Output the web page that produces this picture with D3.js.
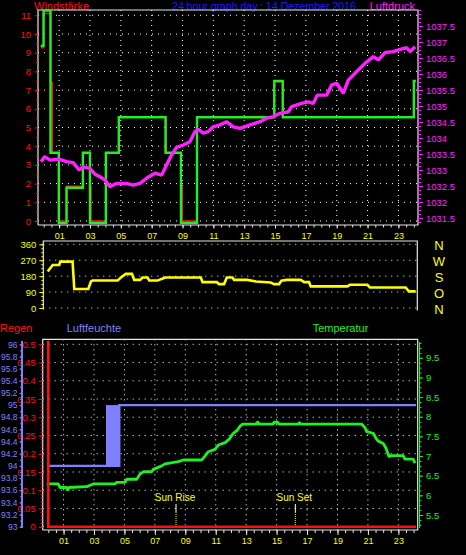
<!DOCTYPE html>
<html><head><meta charset="utf-8">
<script src="https://cdn.jsdelivr.net/npm/d3@7"></script>
<style>html,body{margin:0;padding:0;background:#000;}svg{display:block;}</style>
</head><body>
<svg id="c" width="466" height="555"></svg>
<script>
// ---------------- DATA ----------------
const hourDomain = [-0.37, 24.27];
const hourValues = [1,3,5,7,9,11,13,15,17,19,21,23];
const hourLabels = ["01","03","05","07","09","11","13","15","17","19","21","23"];

const titleText = "24 hour graph day : 14 Dezember 2016";

// wind (Windstärke) gust (green) and average (red), step series
const windGustHours  = [-0.19, -0.01, 0.44, 0.98, 1.48, 2.54, 3.0, 4.03, 4.87, 7.9, 8.9, 9.94, 14.95, 15.5, 24.0, 24.13];
const windGustValues = [9.37, 11.25, 3.65, -0.1, 1.78, 3.65, -0.1, 3.65, 5.55, 3.65, -0.1, 5.55, 7.49, 5.55, 7.49, 7.49];
const windAvgHours   = [-0.19, -0.01, 0.44, 0.55, 0.98, 1.48, 2.54, 3.0, 3.06, 4.03, 4.87, 7.95, 8.9, 8.98, 9.94, 14.95, 15.5, 24.0, 24.13];
const windAvgValues  = [9.27, 11.1, 7.4, 3.65, 0, 1.85, 3.65, 1.85, 0, 3.65, 5.55, 3.65, 1.85, 0, 5.55, 7.45, 5.55, 7.45, 7.45];
const windTicks = [0,1,2,3,4,5,6,7,8,9,10,11];

// pressure (Luftdruck)
const pressHours  = [-0.17,0.07,0.40,1.0,1.48,1.91,2.30,2.56,2.99,3.32,3.64,3.97,4.29,4.72,5.37,5.80,6.24,6.67,7.21,7.65,7.97,8.29,8.62,9.05,9.48,9.81,10.02,10.34,10.67,10.99,11.43,11.86,12.29,12.73,13.38,14.03,14.46,14.89,15.32,15.86,16.08,16.73,17.16,17.48,17.74,18.35,18.68,19.0,19.43,19.75,20.08,20.51,20.95,21.38,21.70,22.14,22.67,23.11,23.54,23.76,24.08];
const pressValues = [1033.26,1033.42,1033.31,1033.34,1033.26,1033.23,1033.0,1033.10,1033.05,1032.87,1032.79,1032.69,1032.48,1032.58,1032.58,1032.53,1032.58,1032.74,1032.90,1032.84,1033.16,1033.47,1033.71,1033.78,1033.88,1034.20,1034.27,1034.15,1034.20,1034.35,1034.41,1034.51,1034.35,1034.30,1034.41,1034.51,1034.62,1034.67,1034.77,1034.82,1034.98,1035.08,1035.13,1035.08,1035.34,1035.34,1035.66,1035.71,1035.40,1035.81,1035.97,1036.18,1036.38,1036.54,1036.44,1036.67,1036.70,1036.77,1036.82,1036.70,1036.85];
const pressTicks = [1031.5,1032,1032.5,1033,1033.5,1034,1034.5,1035,1035.5,1036,1036.5,1037,1037.5];

// wind direction
const dirHours  = [-0.08,0.25,0.68,0.75,1.56,1.67,2.59,2.77,2.88,4.53,4.74,5.07,5.47,5.62,6.01,6.17,6.50,6.61,7.16,7.38,7.66,10.01,10.12,11.06,11.21,11.54,11.72,12.09,12.20,13.08,13.63,14.61,14.83,15.16,15.32,15.67,16.59,16.81,17.14,17.25,19.66,19.83,20.98,21.15,23.50,23.72,24.16];
const dirValues = [206,243,243,262,262,107,107,150,155,155,172,193,193,159,159,172,172,155,155,163,172,172,146,146,135,135,172,172,159,159,150,144,135,135,154,159,159,146,146,122,122,131,131,116,116,94,94];
const dirTicks = [0,90,180,270,360];
const compassLabels = ["N","W","S","O","N"];
const compassValues = [360,270,180,90,0];

// rain (Regen)
const rainHours  = [0.0, 0.0, 24.16];
const rainValues = [0.51, 0, 0];
const rainTicks = [0,0.05,0.1,0.15,0.2,0.25,0.3,0.35,0.4,0.45,0.5];

// humidity (Luftfeuchte)
const humHours  = [-0.02, 4.66, 4.66, 24.16];
const humValues = [94, 94, 95, 95];
const humBandHours = [3.79, 4.66];
const humBandLow   = [94, 94];
const humBandHigh  = [95, 95];
const humTicks = [93,93.2,93.4,93.6,93.8,94,94.2,94.4,94.6,94.8,95,95.2,95.4,95.6,95.8,96];

// temperature (Temperatur)
const tempHours  = [-0.11,0.65,0.77,1.21,1.28,1.34,2.52,2.95,4.38,4.49,5.04,5.15,5.81,6.02,6.24,6.79,6.90,7.45,7.67,8.54,8.87,10.08,10.29,10.51,10.95,11.17,11.61,11.89,12.11,12.42,12.59,12.77,13.70,13.72,13.80,13.82,14.79,14.82,15.10,15.13,16.45,16.47,16.52,16.54,20.59,20.81,20.92,21.35,21.53,21.68,22.01,22.19,22.27,22.40,22.45,23.32,23.43,23.98,24.09];
const tempValues = [6.29,6.29,6.20,6.20,6.12,6.20,6.22,6.29,6.29,6.33,6.33,6.41,6.41,6.54,6.60,6.60,6.66,6.75,6.80,6.86,6.90,6.90,7.00,7.11,7.17,7.28,7.34,7.43,7.56,7.66,7.76,7.81,7.81,7.86,7.86,7.81,7.81,7.86,7.86,7.81,7.81,7.85,7.85,7.81,7.81,7.72,7.62,7.58,7.45,7.38,7.32,7.20,7.11,6.97,7.01,7.01,6.92,6.92,6.82];
const tempTicks = [5.5,6,6.5,7,7.5,8,8.5,9,9.5];

const sunLabels = ["Sun Rise","Sun Set"];
const sunHours  = [8.39, 16.23];

// ---------------- STYLE ----------------
const NARROW = "'Liberation Sans Narrow','Liberation Sans',Arial,sans-serif";
const SANS = "'Liberation Sans',Arial,sans-serif";
const C = {frame:"#e6e6e6", red:"#ff1010", green:"#22ee22", magenta:"#ff22ff", yellow:"#ffff00",
           blue:"#1a1aff", lav:"#8080ff", white:"#ffffff"};

const svg = d3.select("#c");
svg.append("rect").attr("width",466).attr("height",555).attr("fill","#000");

function styleAxis(g, color, size) {
  g.attr("font-family", NARROW).attr("font-size", size || 9);
  g.select("path.domain").remove();
  g.selectAll(".tick line").attr("stroke", color);
  g.selectAll(".tick text").attr("fill", color);
  return g;
}
function hGrid(ys, x0, x1) {
  svg.append("g").selectAll("line").data(ys).join("line")
    .attr("x1", x0).attr("x2", x1).attr("y1", d => d).attr("y2", d => d)
    .attr("stroke", C.white).attr("stroke-width", 1).attr("stroke-dasharray", "1,5");
}
function vGrid(xs, y0, y1) {
  svg.append("g").selectAll("line").data(xs).join("line")
    .attr("x1", d => d).attr("x2", d => d).attr("y1", y0).attr("y2", y1)
    .attr("stroke", C.white).attr("stroke-width", 1).attr("stroke-dasharray", "1,4");
}
const zip = (a, b) => a.map((v, i) => [v, b[i]]);
const halfHours = d3.range(0, 24.3, 0.5);
const numFmt = d => (Math.round(d*100)/100).toString();

// ---------------- TITLES ----------------
svg.append("text").attr("x",34).attr("y",9.5).attr("fill",C.red).attr("font-family",SANS).attr("font-size",11).text("Windstärke");
svg.append("text").attr("x",172).attr("y",9.5).attr("fill",C.blue).attr("font-family",SANS).attr("font-size",11).attr("textLength",184).text(titleText);
svg.append("text").attr("x",415).attr("y",9.5).attr("text-anchor","end").attr("fill",C.magenta).attr("font-family",SANS).attr("font-size",11).text("Luftdruck");

// ---------------- TOP PANEL ----------------
const T = {l:38, r:418, t:10, b:225};
const xTop = d3.scaleLinear().domain(hourDomain).range([T.l, T.r]);
const yWind = d3.scaleLinear().domain([0, 11]).range([221, 15.3]);
const yPress = d3.scaleLinear().domain([1031.5, 1037.5]).range([218, 26]);

hGrid(windTicks.map(yWind), T.l, T.r);
vGrid(hourValues.map(xTop), T.t, T.b);

svg.append("path").attr("fill","none").attr("stroke",C.frame).attr("stroke-width",1.2)
  .attr("d", `M${T.l},${T.b}V${T.t}H${T.r}V${T.b}H${T.l}`);

// left wind axis
styleAxis(svg.append("g").attr("transform",`translate(${T.l},0)`)
  .call(d3.axisLeft(yWind).tickValues(d3.range(0.5, 11, 1)).tickSize(2).tickFormat("")), C.red);
styleAxis(svg.append("g").attr("transform",`translate(${T.l},0)`)
  .call(d3.axisLeft(yWind).tickValues(windTicks).tickSize(3).tickPadding(4)), C.red, 9.5);

// right pressure axis
styleAxis(svg.append("g").attr("transform",`translate(${T.r},0)`)
  .call(d3.axisRight(yPress).tickValues(d3.range(1031.375, 1038.01, 0.125)).tickSize(3).tickFormat("")), C.magenta);
styleAxis(svg.append("g").attr("transform",`translate(${T.r},0)`)
  .call(d3.axisRight(yPress).tickValues(pressTicks).tickSize(5).tickPadding(3).tickFormat(numFmt)), C.magenta, 9.5);

// hour axis under top panel
styleAxis(svg.append("g").attr("transform",`translate(0,${T.b})`)
  .call(d3.axisBottom(xTop).tickValues(halfHours).tickSize(2.5).tickFormat("")), C.frame);
const topHourAxis = styleAxis(svg.append("g").attr("transform",`translate(0,${T.b})`)
  .call(d3.axisBottom(xTop).tickValues(hourValues).tickSize(3.5).tickPadding(4).tickFormat((d,i)=>hourLabels[i])), C.frame, 9);
topHourAxis.selectAll(".tick text").attr("fill", C.yellow);

// wind lines
const windLine = d3.line().x(d => xTop(d[0])).y(d => yWind(d[1])).curve(d3.curveStepAfter);
svg.append("path").datum(zip(windAvgHours, windAvgValues)).attr("d", windLine)
  .attr("fill","none").attr("stroke",C.red).attr("stroke-width",1.6);
svg.append("path").datum(zip(windGustHours, windGustValues)).attr("d", windLine)
  .attr("fill","none").attr("stroke",C.green).attr("stroke-width",2.4);

// pressure line
const pressLine = d3.line().x(d => xTop(d[0])).y(d => yPress(d[1]));
svg.append("path").datum(zip(pressHours, pressValues)).attr("d", pressLine)
  .attr("fill","none").attr("stroke",C.magenta).attr("stroke-width",3.4).attr("stroke-linejoin","bevel");

// ---------------- MIDDLE PANEL ----------------
const M = {l:43.3, r:417.3, t:241, b:309.5};
const xMid = d3.scaleLinear().domain(hourDomain).range([M.l, M.r]);
const yDir = d3.scaleLinear().domain([0, 360]).range([308, 244.3]);

hGrid(dirTicks.map(yDir), M.l, M.r);
svg.append("path").attr("fill","none").attr("stroke",C.frame).attr("stroke-width",1.2)
  .attr("d", `M${M.l},${M.b}V${M.t}H${M.r}V${M.b+1}`);

styleAxis(svg.append("g").attr("transform",`translate(${M.l},0)`)
  .call(d3.axisLeft(yDir).tickValues(d3.range(0, 361, 22.5)).tickSize(2).tickFormat("")), C.yellow);
styleAxis(svg.append("g").attr("transform",`translate(${M.l},0)`)
  .call(d3.axisLeft(yDir).tickValues(dirTicks).tickSize(4).tickPadding(3)), C.yellow, 9.5);

svg.append("g").selectAll("text").data(compassLabels).join("text")
  .attr("x", 439).attr("y", (d,i) => yDir(compassValues[i]) + 1.5)
  .attr("text-anchor","middle").attr("dominant-baseline","central")
  .attr("fill", C.yellow).attr("font-family", NARROW).attr("font-size", 13).text(d => d);

const dirLine = d3.line().x(d => xMid(d[0])).y(d => yDir(d[1]));
svg.append("path").datum(zip(dirHours, dirValues)).attr("d", dirLine)
  .attr("fill","none").attr("stroke",C.yellow).attr("stroke-width",2.6);

// ---------------- BOTTOM PANEL ----------------
svg.append("text").attr("x",0).attr("y",331.5).attr("fill",C.red).attr("font-family",SANS).attr("font-size",11).text("Regen");
svg.append("text").attr("x",66.7).attr("y",331.5).attr("fill",C.lav).attr("font-family",SANS).attr("font-size",11).text("Luftfeuchte");
svg.append("text").attr("x",312.7).attr("y",331.5).attr("fill",C.green).attr("font-family",SANS).attr("font-size",11).text("Temperatur");

const B = {l:42.7, r:417.7, t:339.3, b:530};
const xBot = d3.scaleLinear().domain(hourDomain).range([B.l, B.r]);
const yRain = d3.scaleLinear().domain([0, 0.5]).range([526.7, 344.3]);
const yHum = d3.scaleLinear().domain([93, 96]).range([526.7, 344.3]);
const yTemp = d3.scaleLinear().domain([5.5, 9.5]).range([515, 357.8]);

hGrid(rainTicks.map(yRain), B.l, B.r);
vGrid(hourValues.map(xBot), B.t, B.b);
svg.append("path").attr("fill","none").attr("stroke",C.frame).attr("stroke-width",1.2)
  .attr("d", `M${B.l},${B.b}V${B.t}H${B.r}V${B.b}H${B.l}`);

// rain axis
styleAxis(svg.append("g").attr("transform",`translate(${B.l},0)`)
  .call(d3.axisLeft(yRain).tickValues(d3.range(0, 0.505, 0.01)).tickSize(2).tickFormat("")), C.red);
styleAxis(svg.append("g").attr("transform",`translate(${B.l},0)`)
  .call(d3.axisLeft(yRain).tickValues(rainTicks).tickSize(4).tickPadding(3).tickFormat(numFmt)), C.red, 9.5);

// humidity axis
svg.append("line").attr("x1",22).attr("x2",22).attr("y1",341).attr("y2",528)
  .attr("stroke",C.lav).attr("stroke-width",2);
styleAxis(svg.append("g").attr("transform",`translate(21.5,0)`)
  .call(d3.axisLeft(yHum).tickValues(d3.range(93, 96.01, 0.1)).tickSize(1.5).tickFormat("")), C.lav);
styleAxis(svg.append("g").attr("transform",`translate(21.5,0)`)
  .call(d3.axisLeft(yHum).tickValues(humTicks).tickSize(2).tickPadding(2).tickFormat(numFmt)), C.lav, 8.5);

// temperature axis
svg.append("line").attr("x1",419.5).attr("x2",419.5).attr("y1",342).attr("y2",528)
  .attr("stroke",C.green).attr("stroke-width",1);
styleAxis(svg.append("g").attr("transform",`translate(419,0)`)
  .call(d3.axisRight(yTemp).tickValues(d3.range(5.25, 9.9, 0.125)).tickSize(2.5).tickFormat("")), C.green);
styleAxis(svg.append("g").attr("transform",`translate(419,0)`)
  .call(d3.axisRight(yTemp).tickValues(tempTicks).tickSize(4).tickPadding(3).tickFormat(numFmt)), C.green, 9.5);

// hour axis under bottom panel
styleAxis(svg.append("g").attr("transform",`translate(0,${B.b})`)
  .call(d3.axisBottom(xBot).tickValues(halfHours).tickSize(3).tickFormat("")), C.frame);
const botHourAxis = styleAxis(svg.append("g").attr("transform",`translate(0,${B.b})`)
  .call(d3.axisBottom(xBot).tickValues(hourValues).tickSize(5).tickPadding(2.5).tickFormat((d,i)=>hourLabels[i])), C.frame, 9);
botHourAxis.selectAll(".tick text").attr("fill", C.yellow);

// sun rise / set markers
const sun = svg.append("g").selectAll("g").data(sunLabels).join("g");
sun.append("text").attr("x",(d,i)=>xBot(sunHours[i]) - 1).attr("y",501)
  .attr("text-anchor","middle").attr("fill",C.yellow).attr("font-family",NARROW).attr("font-size",10).text(d=>d);
sun.append("line").attr("x1",(d,i)=>xBot(sunHours[i])).attr("x2",(d,i)=>xBot(sunHours[i]))
  .attr("y1",504).attr("y2",512).attr("stroke",C.white).attr("stroke-width",1);
sun.append("line").attr("x1",(d,i)=>xBot(sunHours[i])).attr("x2",(d,i)=>xBot(sunHours[i]))
  .attr("y1",512).attr("y2",528).attr("stroke",C.yellow).attr("stroke-width",1).attr("stroke-dasharray","1,1");

// humidity
const humArea = d3.area().x(d => xBot(d[0])).y0(d => yHum(d[1])).y1(d => yHum(d[2]));
svg.append("path").datum(humBandHours.map((h,i)=>[h, humBandLow[i], humBandHigh[i]])).attr("d", humArea)
  .attr("fill", C.lav);
const humLine = d3.line().x(d => xBot(d[0])).y(d => yHum(d[1]));
svg.append("path").datum(zip(humHours, humValues)).attr("d", humLine)
  .attr("fill","none").attr("stroke",C.lav).attr("stroke-width",2.4);

// temperature
const tempLine = d3.line().x(d => xBot(d[0])).y(d => yTemp(d[1]));
svg.append("path").datum(zip(tempHours, tempValues)).attr("d", tempLine)
  .attr("fill","none").attr("stroke",C.green).attr("stroke-width",2.8).attr("stroke-linejoin","bevel");

// rain
const rainLine = d3.line().x(d => xBot(d[0])).y(d => yRain(d[1]));
svg.append("path").datum(zip(rainHours, rainValues)).attr("d", rainLine)
  .attr("fill","none").attr("stroke",C.red).attr("stroke-width",2.6);
</script>
</body></html>
